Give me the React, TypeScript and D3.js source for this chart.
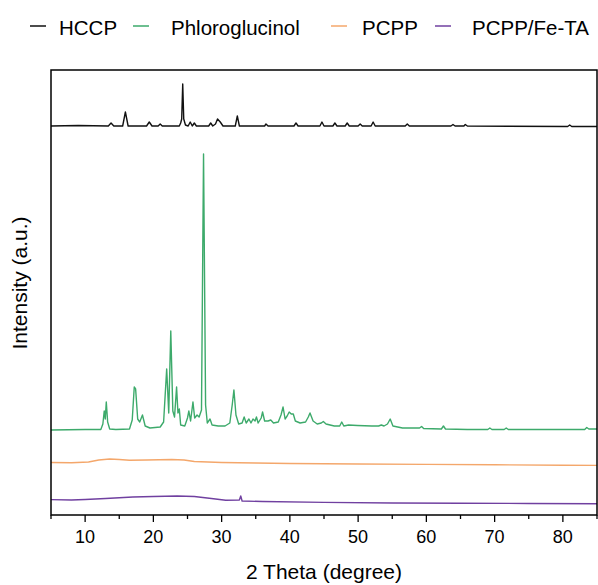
import React from "react";
import * as d3 from "d3";

// 2θ (degree) vs intensity (a.u., offset stacked as drawn)
const hccp: [number, number][] = [
  [5, 389], [9, 389.5], [13.4, 389], [13.8, 392], [14.2, 389], [15.5, 389], [15.9, 403], [16.3, 389],
  [19.0, 389], [19.4, 393], [19.8, 389], [20.7, 389], [21.0, 391], [21.3, 389], [23.8, 389], [24.0, 392],
  [24.15, 396], [24.3, 431], [24.45, 396], [24.7, 390], [25.1, 389], [25.4, 393], [25.7, 389], [26.0, 392],
  [26.3, 389], [28.1, 389], [28.4, 392], [28.7, 389], [29.1, 391], [29.4, 396], [29.8, 393], [30.2, 389],
  [32.0, 389], [32.3, 399], [32.6, 389], [36.3, 389], [36.5, 391], [36.8, 389], [40.6, 389], [40.9, 392],
  [41.2, 389], [44.4, 389], [44.7, 393], [45.0, 389], [46.3, 389], [46.6, 392], [46.9, 389], [48.1, 389],
  [48.4, 392], [48.7, 389], [50.0, 389], [50.3, 391], [50.6, 389], [51.9, 389], [52.2, 393], [52.5, 389],
  [56.9, 389], [57.2, 391], [57.5, 389], [63.6, 389], [63.9, 390.5], [64.2, 389], [65.5, 389], [65.7, 390.5],
  [66.0, 389], [80.7, 388.5], [81.0, 390], [81.3, 388.5], [85, 388.5],
];

const phloroglucinol: [number, number][] = [
  [5, 85], [10, 85.5], [12.3, 85.5], [12.6, 91], [12.8, 104], [12.95, 96], [13.1, 113], [13.3, 93],
  [13.6, 86], [14.5, 85.5], [16.5, 86], [16.9, 95], [17.2, 128], [17.4, 126], [17.7, 96], [18.0, 93],
  [18.4, 100], [18.8, 89], [19.5, 87], [21.0, 88], [21.5, 93], [21.95, 146], [22.25, 102], [22.55, 184],
  [22.85, 104], [23.1, 98], [23.4, 128], [23.6, 102], [23.8, 106], [24.0, 90], [24.6, 89], [25.0, 97],
  [25.2, 104], [25.45, 94], [25.8, 113], [26.05, 97], [26.4, 100], [26.7, 98], [27.05, 105], [27.35, 361],
  [27.65, 110], [27.9, 92], [28.3, 96], [28.6, 90], [29.5, 89], [30.5, 89], [31.2, 92], [31.55, 110],
  [31.8, 125], [32.1, 100], [32.5, 91], [33.0, 92], [33.3, 98], [33.6, 92], [34.0, 96], [34.3, 92],
  [34.6, 96], [34.9, 94], [35.1, 98], [35.35, 92], [35.8, 97], [36.0, 103], [36.3, 94], [36.8, 94],
  [37.2, 95], [37.6, 92], [38.3, 93], [38.7, 100], [39.0, 108], [39.3, 96], [39.6, 99], [39.9, 103],
  [40.2, 101], [40.5, 101], [40.8, 94], [41.5, 92], [42.3, 93], [42.7, 98], [42.95, 102], [43.4, 94],
  [44.0, 91], [44.6, 92], [44.9, 93.5], [45.3, 91], [46.5, 89], [47.3, 89], [47.6, 93], [47.9, 89],
  [48.6, 90], [49.9, 89.5], [52.0, 89], [53.0, 89], [53.4, 90], [53.8, 89], [54.3, 91], [54.7, 96],
  [55.1, 89], [56.5, 87], [59.0, 87], [59.3, 88.5], [59.6, 86.5], [62.2, 86], [62.5, 89], [62.8, 86],
  [66.0, 85.5], [69.0, 85.5], [69.3, 87], [69.6, 85.5], [71.4, 85.5], [71.7, 87], [72.0, 85.5], [80, 85.5],
  [83.2, 85.5], [83.5, 87.5], [83.8, 86], [85, 86],
];

const pcpp: [number, number][] = [
  [5, 52.5], [8, 52.3], [10.5, 53], [12, 55], [13.6, 56], [15, 55.5], [16.5, 54.8], [19, 55],
  [22.7, 55.5], [24.5, 55], [26, 53.5], [30, 52.5], [35, 52], [40, 51.5], [50, 51], [60, 50.6],
  [70, 50.2], [80, 49.8], [85, 49.6],
];

const pcppFeTA: [number, number][] = [
  [5, 15.4], [8, 15], [10, 15.5], [13, 16.5], [17, 18], [20, 18.5], [23.5, 19], [26, 18.5],
  [28.5, 16.5], [30.6, 14.8], [32.6, 15], [32.8, 19], [33.0, 14], [36, 13.5], [45, 12.6], [55, 12],
  [65, 11.8], [75, 11.5], [85, 11.2],
];

const seriesNames = ["HCCP", "Phloroglucinol", "PCPP", "PCPP/Fe-TA"];
const seriesColors = ["#111111", "#3daa6b", "#f4a76b", "#7040a0"];
const seriesData = [hccp, phloroglucinol, pcpp, pcppFeTA];
const majorTicks = [10, 20, 30, 40, 50, 60, 70, 80];
const minorTicks = [5, 15, 25, 35, 45, 55, 65, 75, 85];

const W = 598;
const H = 585;
const m = { left: 51, right: 597, top: 70, bottom: 515 };
const font = "'Liberation Sans', Arial, sans-serif";

export default function App() {
  const x = d3.scaleLinear().domain([5, 85]).range([m.left, m.right]);
  const y = d3.scaleLinear().domain([0, 445]).range([m.bottom, m.top]);
  const line = d3
    .line<[number, number]>()
    .x((d) => x(d[0]))
    .y((d) => y(d[1]));

  const legendLineX = [30, 133, 331, 435];
  const legendTextX = [59, 171, 362, 472];

  return (
    <svg
      width={W}
      height={H}
      style={{ position: "absolute", left: 0, top: 0, background: "#fff" }}
      fontFamily={font}
    >
      <rect x={0} y={0} width={W} height={H} fill="#fff" />
      {/* legend */}
      {seriesNames.map((n, i) => (
        <g key={n}>
          <line
            x1={legendLineX[i]}
            x2={legendLineX[i] + 16}
            y1={26}
            y2={26}
            stroke={seriesColors[i]}
            strokeWidth={1.5}
          />
          <text x={legendTextX[i]} y={35} fontSize={20.5} fill="#000">
            {n}
          </text>
        </g>
      ))}
      {/* series */}
      {seriesData.map((d, i) => (
        <path
          key={i}
          d={line(d) || ""}
          fill="none"
          stroke={seriesColors[i]}
          strokeWidth={1.4}
          strokeLinejoin="round"
        />
      ))}
      {/* frame */}
      <rect
        x={m.left}
        y={m.top}
        width={m.right - m.left}
        height={m.bottom - m.top}
        fill="none"
        stroke="#000"
        strokeWidth={1.5}
      />
      {/* ticks */}
      {majorTicks.map((t) => (
        <g key={t}>
          <line x1={x(t)} x2={x(t)} y1={m.bottom} y2={m.bottom + 7} stroke="#000" strokeWidth={1.3} />
          <text x={x(t)} y={543} fontSize={18} textAnchor="middle" fill="#000">
            {t}
          </text>
        </g>
      ))}
      {minorTicks.map((t) => (
        <line key={t} x1={x(t)} x2={x(t)} y1={m.bottom} y2={m.bottom + 4} stroke="#000" strokeWidth={1.3} />
      ))}
      <text x={(m.left + m.right) / 2} y={579} fontSize={21} textAnchor="middle" fill="#000">
        2 Theta (degree)
      </text>
      <text
        transform={`translate(27,283) rotate(-90)`}
        fontSize={21}
        textAnchor="middle"
        fill="#000"
      >
        Intensity (a.u.)
      </text>
    </svg>
  );
}
